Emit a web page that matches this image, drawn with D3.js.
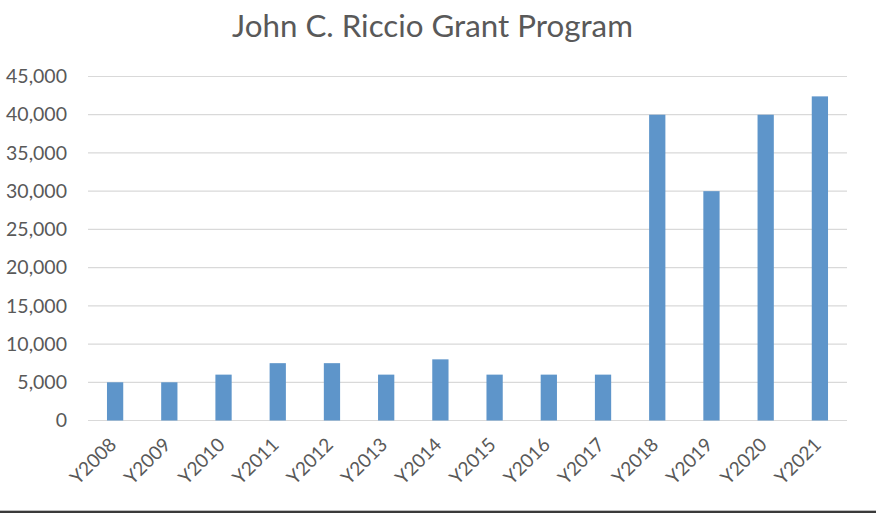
<!DOCTYPE html>
<html><head><meta charset="utf-8">
<script src="https://cdn.jsdelivr.net/npm/d3@7"></script>
<style>
html,body{margin:0;padding:0;background:#fff;}
svg{display:block;}
</style></head>
<body>
<script>
const categories = ["Y2008","Y2009","Y2010","Y2011","Y2012","Y2013","Y2014","Y2015","Y2016","Y2017","Y2018","Y2019","Y2020","Y2021"];
const values = [5000,5000,6000,7500,7500,6000,8000,6000,6000,6000,40000,30000,40000,42400];
const yTicks = [0,5000,10000,15000,20000,25000,30000,35000,40000,45000];
const title = "John C. Riccio Grant Program";

const W = 876, H = 513;
const font = "Lato, 'Open Sans', sans-serif";
const textColor = "#595959";
const svg = d3.select("body").append("svg").attr("width", W).attr("height", H);
svg.append("rect").attr("width", W).attr("height", H).attr("fill", "#fff");

const mLeft = 88, mRight = 847, mTop = 76.5, mBottom = 420.5;
const x = d3.scaleBand().domain(categories).range([mLeft, mRight]).paddingInner(0.7).paddingOuter(0.35);
const y = d3.scaleLinear().domain([0, 45000]).range([mBottom, mTop]);

// gridlines
svg.append("g").selectAll("line").data(yTicks).join("line")
  .attr("x1", mLeft).attr("x2", mRight)
  .attr("y1", d => y(d)).attr("y2", d => y(d))
  .attr("stroke", "#d9d9d9").attr("stroke-width", 1.2);

// bars
svg.append("g").selectAll("rect").data(values).join("rect")
  .attr("x", (d, i) => x(categories[i]))
  .attr("width", x.bandwidth())
  .attr("y", d => y(d))
  .attr("height", d => y(0) - y(d))
  .attr("fill", "#5e95ca");

// y axis
const yAxis = d3.axisLeft(y).tickValues(yTicks).tickSize(0).tickPadding(0)
  .tickFormat(d3.format(","));
const gy = svg.append("g").attr("transform", `translate(${mLeft - 21},0)`).call(yAxis);
gy.select(".domain").remove();
gy.selectAll("text").attr("font-family", font).attr("font-size", 19.5).attr("fill", textColor);

// x axis
const xAxis = d3.axisBottom(x).tickSize(0).tickPadding(0);
const gx = svg.append("g").attr("transform", `translate(0,${mBottom})`).call(xAxis);
gx.select(".domain").remove();
gx.selectAll("text")
  .attr("font-family", font).attr("font-size", 19).attr("fill", textColor)
  .attr("text-anchor", "end")
  .attr("dy", null).attr("y", 0)
  .attr("transform", "translate(-1,22) rotate(-45)")
  .attr("dominant-baseline", "middle");

// title
svg.append("text").attr("x", 432.5).attr("y", 37).attr("text-anchor", "middle")
  .attr("font-family", font).attr("font-size", 31.3).attr("fill", textColor).text(title);

// bottom border
svg.append("rect").attr("x", 0).attr("y", H - 2).attr("width", W).attr("height", 2).attr("fill", "#3a3a3a");
svg.append("rect").attr("x", 0).attr("y", H - 3).attr("width", W).attr("height", 1).attr("fill", "#bdbdbd");
</script>
</body></html>
